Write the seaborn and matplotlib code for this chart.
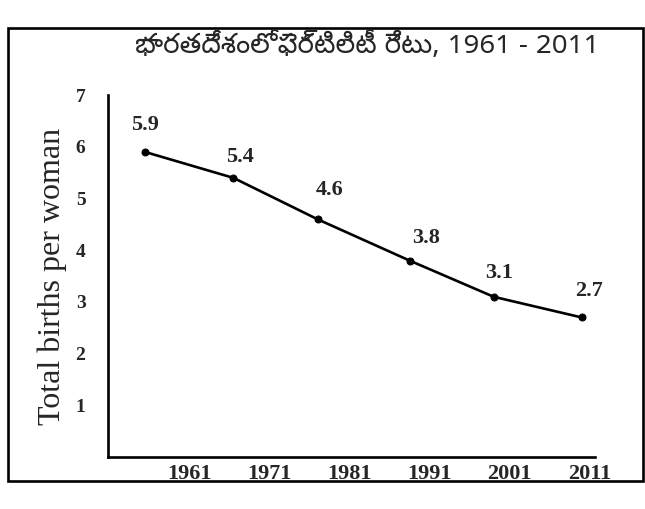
import numpy as np
import pandas as pd
import matplotlib.pyplot as plt
import matplotlib.patches as patches
import seaborn as sns

# values
years = [1955.5, 1966.5, 1977.0, 1988.5, 1999.0, 2010.0]
rate = [5.9, 5.4, 4.6, 3.8, 3.1, 2.7]
rate_labels = ['5.9', '5.4', '4.6', '3.8', '3.1', '2.7']
tick_years = [1961, 1971, 1981, 1991, 2001, 2011]
title = 'భారతదేశంలో ఫెర్టిలిటీ రేటు, 1961 - 2011'
ylabel = 'Total births per woman'

df = pd.DataFrame({'year': years, 'rate': rate})

sns.set_style('white')
plt.rcParams['font.family'] = ['Liberation Serif', 'DejaVu Serif']

fig = plt.figure(figsize=(6.45, 5.09), dpi=100)
fig.patch.set_facecolor('white')
ax = fig.add_axes([0.167, 0.102, 0.755, 0.711])

sns.lineplot(data=df, x='year', y='rate', ax=ax, color='black', lw=1.9,
             marker='o', markersize=5, markeredgecolor='black')

# label offsets in points (dx, dy)
offsets = [(0, 12), (5, 8), (9, 14), (12, 9), (4, 10), (5, 12)]
for x, y, lab, (dx, dy) in zip(years, rate, rate_labels, offsets):
    ax.annotate(lab, (x, y), xytext=(dx, dy), textcoords='offset points',
                ha='center', va='bottom', fontsize=16, fontweight='bold')

ax.set_xlim(1950.8, 2011.6)
ax.set_ylim(0, 7)
ax.set_xticks(tick_years)
ax.set_xticklabels([str(t) for t in tick_years], fontsize=16, fontweight='bold')
ax.set_yticks(range(1, 8))
ax.set_yticklabels([str(v) for v in range(1, 8)], fontsize=14, fontweight='bold')
ax.tick_params(axis='x', direction='in', length=5, width=1.5, pad=5)
ax.tick_params(axis='y', direction='out', length=4, width=1.5, pad=12)
ax.set_xlabel('')
ax.set_ylabel(ylabel, fontsize=23, labelpad=6)
sns.despine(ax=ax)
for s in ['left', 'bottom']:
    ax.spines[s].set_linewidth(1.9)
    ax.spines[s].set_color('black')

fig.text(0.57, 0.91, title, ha='center', va='center', fontsize=20,
         family=['Noto Sans Telugu', 'DejaVu Sans'])

# outer frame of the figure box
frame = patches.Rectangle((0.012, 0.055), 0.985, 0.89, transform=fig.transFigure,
                          fill=False, edgecolor='black', lw=1.9)
fig.patches.append(frame)

fig.savefig('out.png', dpi=100)
